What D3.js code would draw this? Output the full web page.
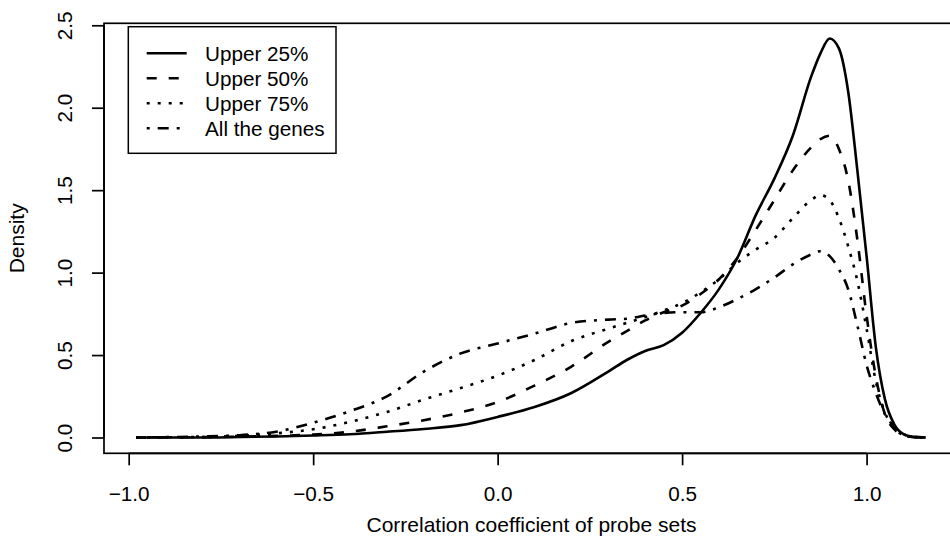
<!DOCTYPE html>
<html lang="en">
<head>
    <meta charset="UTF-8">
    <title>Density of correlation coefficients</title>
    <script src="https://cdnjs.cloudflare.com/ajax/libs/d3/7.8.5/d3.min.js"></script>
</head>

<style>
body { margin: 0; background: #fff; }
text { font-family: "Liberation Sans", Arial, Helvetica, sans-serif; fill: #000; }
.curve { fill: none; stroke: #000; stroke-width: 2.6px; stroke-linejoin: round; }
</style>

<body>
<script>

    // x grid (correlation coefficient) shared by all four density curves
    var corr = [-0.98, -0.9, -0.8, -0.7, -0.6, -0.5, -0.4, -0.3, -0.2, -0.1, 0,
        0.1, 0.2, 0.3, 0.35, 0.4, 0.45, 0.5, 0.55, 0.6, 0.65, 0.7, 0.75, 0.8, 0.85,
        0.875, 0.9, 0.925, 0.95, 0.975, 1.0, 1.025, 1.05, 1.075, 1.1, 1.125, 1.16];

    var upper25 = [0, 0, 0, 0.003, 0.006, 0.012, 0.02, 0.035, 0.052, 0.075, 0.125,
        0.185, 0.27, 0.40, 0.47, 0.525, 0.56, 0.635, 0.755, 0.9, 1.09, 1.35, 1.57, 1.83, 2.19,
        2.33, 2.42, 2.36, 2.1, 1.62, 1.1, 0.55, 0.23, 0.08, 0.02, 0.004, 0];

    var upper50 = [0, 0.001, 0.002, 0.005, 0.01, 0.018, 0.035, 0.068, 0.105, 0.152, 0.215,
        0.315, 0.43, 0.58, 0.645, 0.71, 0.76, 0.80, 0.87, 0.96, 1.09, 1.26, 1.44, 1.62, 1.76,
        1.81, 1.83, 1.75, 1.56, 1.2, 0.74, 0.37, 0.14, 0.05, 0.013, 0.003, 0];

    var upper75 = [0, 0.001, 0.003, 0.01, 0.025, 0.05, 0.095, 0.155, 0.23, 0.30, 0.375,
        0.47, 0.585, 0.66, 0.695, 0.73, 0.77, 0.815, 0.88, 0.96, 1.06, 1.14, 1.21, 1.33, 1.44,
        1.47, 1.44, 1.33, 1.16, 0.95, 0.66, 0.34, 0.15, 0.055, 0.015, 0.003, 0];

    var allGenes = [0, 0.002, 0.006, 0.014, 0.035, 0.09, 0.16, 0.25, 0.40, 0.51, 0.57,
        0.63, 0.695, 0.715, 0.72, 0.74, 0.755, 0.76, 0.76, 0.79, 0.84, 0.9, 0.97, 1.05, 1.11,
        1.13, 1.10, 1.02, 0.9, 0.68, 0.44, 0.27, 0.14, 0.065, 0.02, 0.005, 0];

    var seriesNames = ["Upper 25%", "Upper 50%", "Upper 75%", "All the genes"];
    var xTicks = [-1.0, -0.5, 0.0, 0.5, 1.0];
    var yTicks = [0.0, 0.5, 1.0, 1.5, 2.0, 2.5];

    // R style line types
    var dashes = ["none", "10,12", "3,8", "3,8,11,8"];

    var width = 950, height = 538;
    var box = {left: 104, right: 959, top: 23.3, bottom: 453.3};
    var fontSize = "20.7px";

    var x = d3.scaleLinear().domain([-1.0669, 1.2505]).range([box.left, box.right]);
    var y = d3.scaleLinear().domain([-0.0958, 2.512]).range([box.bottom, box.top]);

    var svg = d3.select("body").append("svg")
        .attr("width", width)
        .attr("height", height);

    var series = [upper25, upper50, upper75, allGenes].map(function(vals, i) {
        return {
            name: seriesNames[i],
            dash: dashes[i],
            points: corr.map(function(c, j) { return [c, vals[j]]; })
        };
    });

    var line = d3.line()
        .x(function(d) { return x(d[0]); })
        .y(function(d) { return y(d[1]); })
        .curve(d3.curveMonotoneX);

    svg.selectAll(".curve")
        .data(series)
        .enter()
        .append("path")
        .attr("class", "curve")
        .attr("stroke-dasharray", function(d) { return d.dash; })
        .attr("d", function(d) { return line(d.points); });

    // plot box
    svg.append("rect")
        .attr("x", box.left)
        .attr("y", box.top)
        .attr("width", box.right - box.left)
        .attr("height", box.bottom - box.top)
        .attr("fill", "none")
        .attr("stroke", "#000")
        .attr("stroke-width", 1.7);

    // x axis
    var xAxis = svg.append("g")
        .attr("transform", "translate(0," + box.bottom + ")")
        .call(d3.axisBottom(x).tickValues(xTicks).tickSize(12)
            .tickFormat(function(d) { return d3.format(".1f")(d).replace("-", "\u2212"); }));
    xAxis.select(".domain").remove();
    xAxis.selectAll(".tick line").attr("stroke", "#000").attr("stroke-width", 1.7);
    xAxis.selectAll(".tick text")
        .attr("dy", 0)
        .attr("y", 501 - box.bottom)
        .style("font-size", fontSize)
        .attr("fill", "#000");
    xAxis.append("line")
        .attr("x1", x(xTicks[0]))
        .attr("x2", x(xTicks[xTicks.length - 1]))
        .attr("stroke", "#000")
        .attr("stroke-width", 1.7);

    // y axis
    var yAxis = svg.append("g")
        .attr("transform", "translate(" + box.left + ",0)")
        .call(d3.axisLeft(y).tickValues(yTicks).tickSize(12).tickFormat(d3.format(".1f")));
    yAxis.select(".domain").remove();
    yAxis.selectAll(".tick line").attr("stroke", "#000").attr("stroke-width", 1.7);
    yAxis.selectAll(".tick text")
        .attr("x", null).attr("dy", null)
        .attr("text-anchor", "middle")
        .attr("transform", "translate(" + (72 - box.left) + ",0) rotate(-90)")
        .style("font-size", fontSize)
        .attr("fill", "#000");
    yAxis.append("line")
        .attr("y1", y(yTicks[0]))
        .attr("y2", y(yTicks[yTicks.length - 1]))
        .attr("stroke", "#000")
        .attr("stroke-width", 1.7);

    // axis titles
    svg.append("text")
        .attr("x", (box.left + box.right) / 2)
        .attr("y", 532)
        .attr("text-anchor", "middle")
        .style("font-size", "21px")
        .text("Correlation coefficient of probe sets");

    svg.append("text")
        .attr("transform", "translate(23.5," + ((box.top + box.bottom) / 2) + ") rotate(-90)")
        .attr("text-anchor", "middle")
        .style("font-size", "21px")
        .text("Density");

    // legend
    var legend = svg.append("g");
    legend.append("rect")
        .attr("x", 128.3)
        .attr("y", 26.7)
        .attr("width", 336 - 128.3)
        .attr("height", 153.3 - 26.7)
        .attr("fill", "#fff")
        .attr("stroke", "#000")
        .attr("stroke-width", 1.5);

    var rowY = d3.scaleLinear().domain([0, 3]).range([53.3, 128.3]);

    var rows = legend.selectAll(".row")
        .data(series)
        .enter()
        .append("g")
        .attr("transform", function(d, i) { return "translate(0," + rowY(i) + ")"; });

    rows.append("line")
        .attr("x1", 146.7)
        .attr("x2", 186.7)
        .attr("stroke", "#000")
        .attr("stroke-width", 2.6)
        .attr("stroke-dasharray", function(d) { return d.dash; });

    rows.append("text")
        .attr("x", 205)
        .attr("y", 7.3)
        .style("font-size", fontSize)
        .text(function(d) { return d.name; });

</script>
</body>
</html>
